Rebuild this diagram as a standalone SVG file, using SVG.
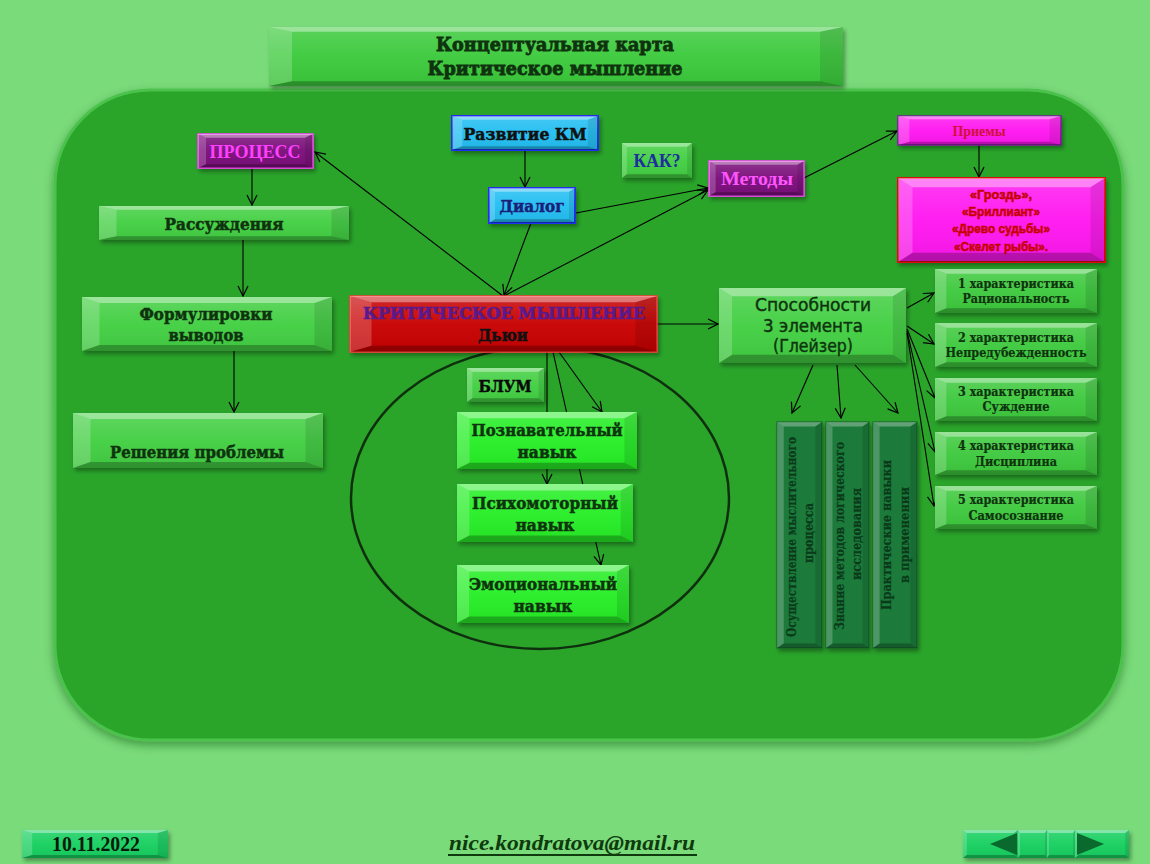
<svg xmlns="http://www.w3.org/2000/svg" width="1150" height="864" viewBox="0 0 1150 864">
<defs>
<style>
.gr{fill:#43CF43}
.gc{fill:#3CC93C}
.gb{fill:#25EE25}
.gt{fill:#3ACA3A}
.cy{fill:#20BEF2;stroke:#1F30F0;stroke-width:2}
.pu{fill:#7A0C7A;stroke:#FF44FF;stroke-width:1.5}
.mg{fill:#FF14F0}
.rd{fill:#C80000;stroke:#FF3A3A;stroke-width:1.5}
.gv{fill:#1B7A3A;stroke:#0E5A2A;stroke-width:1}
.nv{fill:#14CF5E}
.sh{filter:url(#sh)}
.ts{font-family:"DejaVu Serif",serif;font-weight:bold;text-anchor:middle;fill:#0E330E;stroke:#0E330E;stroke-width:.5}
.sm{stroke-width:.2}
.tl{font-family:"Liberation Serif",serif;text-anchor:middle}
.tsans{font-family:"DejaVu Sans",sans-serif;text-anchor:middle;fill:#0E330E;stroke:#0E330E;stroke-width:.45}
.cn line{stroke:#000;stroke-width:1.1;marker-end:url(#ah)}
</style>
<filter id="sh" x="-10%" y="-15%" width="125%" height="150%">
<feDropShadow dx="2" dy="3" stdDeviation="2" flood-color="#000" flood-opacity=".35"/>
</filter>
<filter id="psh" x="-5%" y="-5%" width="110%" height="112%">
<feDropShadow dx="0" dy="4" stdDeviation="5" flood-color="#0A4A0A" flood-opacity=".45"/>
</filter>
<linearGradient id="gloss" x1="0" y1="0" x2="0" y2="1">
<stop offset="0" stop-color="#fff" stop-opacity=".16"/>
<stop offset=".5" stop-color="#fff" stop-opacity=".04"/>
<stop offset="1" stop-color="#000" stop-opacity=".06"/>
</linearGradient>
<symbol id="bev" viewBox="0 0 100 100" preserveAspectRatio="none">
<rect width="100" height="100" fill="url(#gloss)"/>
<polygon points="0,0 100,0 93,11 7,11" fill="#fff" fill-opacity=".38"/>
<polygon points="0,0 7,11 7,89 0,100" fill="#fff" fill-opacity=".2"/>
<polygon points="100,0 100,100 93,89 93,11" fill="#000" fill-opacity=".1"/>
<polygon points="0,100 100,100 93,89 7,89" fill="#000" fill-opacity=".25"/>
</symbol>
<symbol id="bevT" viewBox="0 0 100 100" preserveAspectRatio="none">
<rect width="100" height="100" fill="url(#gloss)"/>
<polygon points="0,0 100,0 96,8 4,8" fill="#fff" fill-opacity=".4"/>
<polygon points="0,0 4,8 4,92 0,100" fill="#fff" fill-opacity=".2"/>
<polygon points="100,0 100,100 96,92 96,8" fill="#000" fill-opacity=".1"/>
<polygon points="0,100 100,100 96,92 4,92" fill="#000" fill-opacity=".25"/>
</symbol>
<symbol id="bevV" viewBox="0 0 100 100" preserveAspectRatio="none">
<polygon points="0,0 100,0 85,2 15,2" fill="#fff" fill-opacity=".3"/>
<polygon points="0,0 15,2 15,98 0,100" fill="#fff" fill-opacity=".22"/>
<polygon points="100,0 100,100 85,98 85,2" fill="#000" fill-opacity=".12"/>
<polygon points="0,100 100,100 85,98 15,98" fill="#000" fill-opacity=".25"/>
</symbol>
<marker id="ah" viewBox="0 0 12 12" refX="11" refY="6" markerWidth="12" markerHeight="12" orient="auto" markerUnits="userSpaceOnUse">
<path d="M1,1 L11,6 L1,11" fill="none" stroke="#000" stroke-width="1.2"/>
</marker>
</defs>

<rect width="1150" height="864" fill="#7ADB7A"/>
<rect id="panel" x="55" y="90" width="1068" height="650" rx="95" fill="#2AA52A" stroke="#4CC24C" stroke-width="3" filter="url(#psh)"/>
<ellipse id="bloom-ring" cx="540" cy="498" rx="189" ry="151" fill="none" stroke="#0F2F0F" stroke-width="2.5"/>

<g id="connectors" class="cn">
<line x1="503" y1="296" x2="315" y2="152"/>
<line x1="531" y1="223" x2="504" y2="295"/>
<line x1="504" y1="296" x2="708" y2="190"/>
<line x1="576" y1="213" x2="708" y2="188"/>
<line x1="525" y1="151" x2="525" y2="187"/>
<line x1="804" y1="178" x2="897" y2="131"/>
<line x1="979" y1="145" x2="979" y2="177"/>
<line x1="252" y1="168" x2="252" y2="205"/>
<line x1="243" y1="240" x2="243" y2="296"/>
<line x1="234" y1="351" x2="234" y2="412"/>
<line x1="657" y1="324" x2="718" y2="324"/>
<line x1="907" y1="308" x2="934" y2="293"/>
<line x1="907" y1="326" x2="934" y2="344"/>
<line x1="907" y1="329" x2="935" y2="398"/>
<line x1="907" y1="331" x2="935" y2="452"/>
<line x1="907" y1="333" x2="934" y2="506"/>
<line x1="813" y1="365" x2="792" y2="413"/>
<line x1="837" y1="365" x2="841" y2="418"/>
<line x1="855" y1="365" x2="898" y2="413"/>
<line x1="547" y1="352" x2="547" y2="484"/>
<line x1="553" y1="352" x2="601" y2="565"/>
<line x1="559" y1="352" x2="602" y2="412"/>
</g>

<g id="title">
<rect class="gt sh" x="269" y="27" width="574" height="59"/>
<use href="#bevT" x="269" y="27" width="574" height="59"/>
<text class="ts" x="555" y="51" font-size="18" style="stroke-width:.8" textLength="238" lengthAdjust="spacingAndGlyphs">Концептуальная  карта</text>
<text class="ts" x="555" y="75" font-size="18" style="stroke-width:.8" textLength="255" lengthAdjust="spacingAndGlyphs">Критическое  мышление</text>
</g>

<g id="process">
<rect class="pu sh" x="198" y="134" width="115" height="34"/>
<use href="#bev" x="198" y="134" width="115" height="34"/>
<text class="tl" x="255" y="158" font-size="18" font-weight="bold" fill="#FF40FF" textLength="91" lengthAdjust="spacingAndGlyphs">ПРОЦЕСС</text>
</g>

<g id="rassuzhdeniya">
<rect class="gr sh" x="99" y="206" width="250" height="34"/>
<use href="#bev" x="99" y="206" width="250" height="34"/>
<text class="ts" x="224" y="230" font-size="16.5" textLength="119" lengthAdjust="spacingAndGlyphs">Рассуждения</text>
</g>

<g id="formulirovki">
<rect class="gr sh" x="82" y="297" width="250" height="54"/>
<use href="#bev" x="82" y="297" width="250" height="54"/>
<text class="ts" x="206" y="320" font-size="16.5" textLength="133" lengthAdjust="spacingAndGlyphs">Формулировки</text>
<text class="ts" x="206" y="341" font-size="16.5" textLength="75" lengthAdjust="spacingAndGlyphs">выводов</text>
</g>

<g id="resheniya">
<rect class="gr sh" x="73" y="413" width="250" height="55"/>
<use href="#bev" x="73" y="413" width="250" height="55"/>
<text class="ts" x="197" y="458" font-size="16.5" textLength="174" lengthAdjust="spacingAndGlyphs">Решения проблемы</text>
</g>

<g id="razvitie">
<rect class="cy sh" x="452" y="116" width="146" height="34"/>
<use href="#bev" x="452" y="116" width="146" height="34"/>
<text class="ts" x="525" y="140" font-size="16" style="fill:#111;stroke:#111" textLength="123" lengthAdjust="spacingAndGlyphs">Развитие  КМ</text>
</g>

<g id="dialog">
<rect class="cy sh" x="489" y="188" width="86" height="35"/>
<use href="#bev" x="489" y="188" width="86" height="35"/>
<text class="ts" x="532" y="212" font-size="16" style="fill:#1A1F7A;stroke:#1A1F7A" textLength="65" lengthAdjust="spacingAndGlyphs">Диалог</text>
</g>

<g id="kak">
<rect class="gr sh" x="622" y="143" width="70" height="35"/>
<use href="#bev" x="622" y="143" width="70" height="35"/>
<text class="tl" x="657" y="167" font-size="18" font-weight="bold" fill="#1E2E9E" textLength="47" lengthAdjust="spacingAndGlyphs">КАК?</text>
</g>

<g id="metody">
<rect class="pu sh" x="709" y="161" width="95" height="35"/>
<use href="#bev" x="709" y="161" width="95" height="35"/>
<text class="tl" x="757" y="185" font-size="19" font-weight="bold" fill="#FF55FF" textLength="72" lengthAdjust="spacingAndGlyphs">Методы</text>
</g>

<g id="priemy">
<rect class="mg sh" x="898" y="116" width="163" height="29" stroke="#7A1A9A" stroke-width="1.5"/>
<use href="#bev" x="898" y="116" width="163" height="29"/>
<text class="tl" x="979" y="136" font-size="15" font-weight="bold" fill="#D0103A" textLength="53" lengthAdjust="spacingAndGlyphs">Приемы</text>
</g>

<g id="priemy-list">
<rect class="mg sh" x="898" y="178" width="207" height="84" stroke="#DD1010" stroke-width="2"/>
<use href="#bev" x="898" y="178" width="207" height="84"/>
<g font-family="Liberation Sans, sans-serif" font-weight="bold" font-size="12.5" fill="#D00000" stroke="#C00000" stroke-width=".5" text-anchor="middle">
<text x="1001" y="199" textLength="62" lengthAdjust="spacingAndGlyphs">«Гроздь»,</text>
<text x="1001" y="216" textLength="78" lengthAdjust="spacingAndGlyphs">«Бриллиант»</text>
<text x="1001" y="233" textLength="98" lengthAdjust="spacingAndGlyphs">«Древо судьбы»</text>
<text x="1001" y="251" textLength="94" lengthAdjust="spacingAndGlyphs">«Скелет рыбы».</text>
</g>
</g>

<g id="kriticheskoe">
<rect class="rd sh" x="350" y="296" width="307" height="56"/>
<use href="#bev" x="350" y="296" width="307" height="56"/>
<text class="ts" x="504" y="319" font-size="17" style="fill:#5B1A8C;stroke:#5B1A8C;stroke-width:.7" textLength="282" lengthAdjust="spacingAndGlyphs">КРИТИЧЕСКОЕ  МЫШЛЕНИЕ</text>
<text class="ts" x="503" y="341" font-size="17" style="fill:#111;stroke:#111" textLength="50" lengthAdjust="spacingAndGlyphs">Дьюи</text>
</g>

<g id="sposobnosti">
<rect class="gr sh" x="719" y="288" width="187" height="75"/>
<use href="#bev" x="719" y="288" width="187" height="75"/>
<text class="tsans" x="813" y="311" font-size="18" textLength="116" lengthAdjust="spacingAndGlyphs">Способности</text>
<text class="tsans" x="813" y="332" font-size="18" textLength="100" lengthAdjust="spacingAndGlyphs">3 элемента</text>
<text class="tsans" x="813" y="352" font-size="18" textLength="80" lengthAdjust="spacingAndGlyphs">(Глейзер)</text>
</g>

<g id="char1">
<rect class="gc sh" x="935" y="269" width="162" height="44"/>
<use href="#bev" x="935" y="269" width="162" height="44"/>
<text class="ts sm" x="1016" y="288" font-size="12.5" textLength="116" lengthAdjust="spacingAndGlyphs">1 характеристика</text>
<text class="ts sm" x="1016" y="303" font-size="12.5" textLength="107" lengthAdjust="spacingAndGlyphs">Рациональность</text>
</g>
<g id="char2">
<rect class="gc sh" x="935" y="323" width="162" height="44"/>
<use href="#bev" x="935" y="323" width="162" height="44"/>
<text class="ts sm" x="1016" y="342" font-size="12.5" textLength="116" lengthAdjust="spacingAndGlyphs">2 характеристика</text>
<text class="ts sm" x="1016" y="357" font-size="12.5" textLength="141" lengthAdjust="spacingAndGlyphs">Непредубежденность</text>
</g>
<g id="char3">
<rect class="gc sh" x="935" y="378" width="162" height="43"/>
<use href="#bev" x="935" y="378" width="162" height="43"/>
<text class="ts sm" x="1016" y="396" font-size="12.5" textLength="116" lengthAdjust="spacingAndGlyphs">3 характеристика</text>
<text class="ts sm" x="1016" y="411" font-size="12.5" textLength="67" lengthAdjust="spacingAndGlyphs">Суждение</text>
</g>
<g id="char4">
<rect class="gc sh" x="935" y="432" width="162" height="43"/>
<use href="#bev" x="935" y="432" width="162" height="43"/>
<text class="ts sm" x="1016" y="450" font-size="12.5" textLength="116" lengthAdjust="spacingAndGlyphs">4 характеристика</text>
<text class="ts sm" x="1016" y="466" font-size="12.5" textLength="82" lengthAdjust="spacingAndGlyphs">Дисциплина</text>
</g>
<g id="char5">
<rect class="gc sh" x="935" y="486" width="162" height="43"/>
<use href="#bev" x="935" y="486" width="162" height="43"/>
<text class="ts sm" x="1016" y="504" font-size="12.5" textLength="116" lengthAdjust="spacingAndGlyphs">5 характеристика</text>
<text class="ts sm" x="1016" y="520" font-size="12.5" textLength="95" lengthAdjust="spacingAndGlyphs">Самосознание</text>
</g>

<g id="elem1">
<rect class="gv sh" x="777" y="422" width="45" height="226"/>
<use href="#bevV" x="777" y="422" width="45" height="226"/>
<text class="ts sm" x="796" y="537" font-size="12" style="fill:#0A3A1A;stroke:#0A3A1A" transform="rotate(-90 796 537)" textLength="200" lengthAdjust="spacingAndGlyphs">Осуществление мыслительного</text>
<text class="ts sm" x="813" y="533" font-size="12" style="fill:#0A3A1A;stroke:#0A3A1A" transform="rotate(-90 813 533)" textLength="60" lengthAdjust="spacingAndGlyphs">процесса</text>
</g>
<g id="elem2">
<rect class="gv sh" x="826" y="422" width="43" height="226"/>
<use href="#bevV" x="826" y="422" width="43" height="226"/>
<text class="ts sm" x="844" y="536" font-size="12" style="fill:#0A3A1A;stroke:#0A3A1A" transform="rotate(-90 844 536)" textLength="188" lengthAdjust="spacingAndGlyphs">Знание методов логического</text>
<text class="ts sm" x="861" y="534" font-size="12" style="fill:#0A3A1A;stroke:#0A3A1A" transform="rotate(-90 861 534)" textLength="92" lengthAdjust="spacingAndGlyphs">исследования</text>
</g>
<g id="elem3">
<rect class="gv sh" x="873" y="422" width="44" height="226"/>
<use href="#bevV" x="873" y="422" width="44" height="226"/>
<text class="ts sm" x="891" y="535" font-size="12" style="fill:#0A3A1A;stroke:#0A3A1A" transform="rotate(-90 891 535)" textLength="150" lengthAdjust="spacingAndGlyphs">Практические навыки</text>
<text class="ts sm" x="909" y="535" font-size="12" style="fill:#0A3A1A;stroke:#0A3A1A" transform="rotate(-90 909 535)" textLength="96" lengthAdjust="spacingAndGlyphs">в применении</text>
</g>

<g id="blum">
<rect class="gr sh" x="467" y="368" width="77" height="34"/>
<use href="#bev" x="467" y="368" width="77" height="34"/>
<text class="ts" x="505" y="392" font-size="16.5" style="fill:#0A0A0A;stroke:#0A0A0A" textLength="53" lengthAdjust="spacingAndGlyphs">БЛУМ</text>
</g>
<g id="poznavatelny">
<rect class="gb sh" x="457" y="412" width="180" height="57"/>
<use href="#bev" x="457" y="412" width="180" height="57"/>
<text class="ts" x="547" y="436" font-size="17" textLength="151" lengthAdjust="spacingAndGlyphs">Познавательный</text>
<text class="ts" x="547" y="458" font-size="17" textLength="59" lengthAdjust="spacingAndGlyphs">навык</text>
</g>
<g id="psihomotorny">
<rect class="gb sh" x="457" y="484" width="176" height="58"/>
<use href="#bev" x="457" y="484" width="176" height="58"/>
<text class="ts" x="545" y="509" font-size="17" textLength="146" lengthAdjust="spacingAndGlyphs">Психомоторный</text>
<text class="ts" x="545" y="531" font-size="17" textLength="59" lengthAdjust="spacingAndGlyphs">навык</text>
</g>
<g id="emocionalny">
<rect class="gb sh" x="457" y="565" width="172" height="58"/>
<use href="#bev" x="457" y="565" width="172" height="58"/>
<text class="ts" x="543" y="590" font-size="17" textLength="148" lengthAdjust="spacingAndGlyphs">Эмоциональный</text>
<text class="ts" x="543" y="612" font-size="17" textLength="59" lengthAdjust="spacingAndGlyphs">навык</text>
</g>

<g id="date">
<rect class="nv sh" x="22" y="830" width="146" height="28"/>
<use href="#bev" x="22" y="830" width="146" height="28"/>
<text class="tl" x="96" y="851" font-size="20" font-weight="bold" fill="#0A1A0A" textLength="88" lengthAdjust="spacingAndGlyphs">10.11.2022</text>
</g>

<g id="email">
<text class="tl" x="572" y="850" font-size="21" font-style="italic" font-weight="bold" fill="#0E3A0E" textLength="246" lengthAdjust="spacingAndGlyphs">nice.kondratova@mail.ru</text>
<line x1="448" y1="855" x2="697" y2="855" stroke="#0E3A0E" stroke-width="2.2"/>
</g>

<g id="nav">
<rect class="nv sh" x="963" y="830" width="166" height="28"/>
<use href="#bev" x="963" y="830" width="55" height="28"/>
<use href="#bev" x="1018" y="830" width="29" height="28"/>
<use href="#bev" x="1047" y="830" width="28" height="28"/>
<use href="#bev" x="1075" y="830" width="54" height="28"/>
<polygon points="990,844 1017,833 1017,855" fill="#0A6A2E"/>
<polygon points="1104,844 1077,833 1077,855" fill="#0A6A2E"/>
</g>
</svg>
